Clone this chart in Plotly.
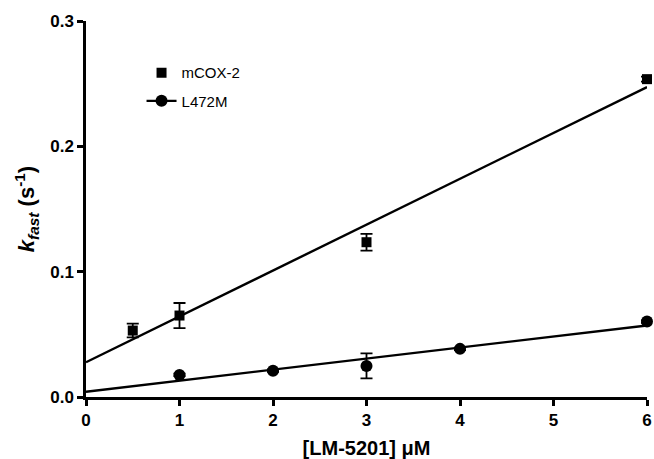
import numpy as np
import plotly.graph_objects as go

# Data
cox_x = [0.5, 1, 3, 6]
cox_y = [0.053, 0.065, 0.1235, 0.2536]
cox_err = [0.0055, 0.010, 0.0067, 0.002]

l472_x = [1, 2, 3, 4, 6]
l472_y = [0.0176, 0.021, 0.0248, 0.0384, 0.0602]
l472_err = [0.001, 0.001, 0.010, 0.001, 0.001]

x_ticks = [0, 1, 2, 3, 4, 5, 6]
y_ticks = [0.0, 0.1, 0.2, 0.3]
y_tick_labels = ["0.0", "0.1", "0.2", "0.3"]

# Linear fits
cox_fit = np.polyfit(cox_x, cox_y, 1)
l472_fit = np.polyfit(l472_x, l472_y, 1)
fit_x = np.array([0, 6])

FONT = "Liberation Sans, Arial, sans-serif"

fig = go.Figure()

fig.add_trace(go.Scatter(
    x=fit_x, y=np.polyval(cox_fit, fit_x), mode="lines",
    line=dict(color="black", width=2.4), showlegend=False, hoverinfo="skip"))
fig.add_trace(go.Scatter(
    x=fit_x, y=np.polyval(l472_fit, fit_x), mode="lines",
    line=dict(color="black", width=2.4), showlegend=False, hoverinfo="skip"))

fig.add_trace(go.Scatter(
    x=cox_x, y=cox_y, mode="markers", name="mCOX-2",
    marker=dict(symbol="square", size=10, color="black"),
    error_y=dict(type="data", array=cox_err, visible=True, color="black",
                 thickness=1.8, width=6),
    cliponaxis=False, legend="legend"))
fig.add_trace(go.Scatter(
    x=l472_x, y=l472_y, mode="markers", name="L472M",
    marker=dict(symbol="circle", size=12, color="black"),
    error_y=dict(type="data", array=l472_err, visible=True, color="black",
                 thickness=1.8, width=6),
    cliponaxis=False, showlegend=False))
# legend entry for L472M with line + circle
fig.add_trace(go.Scatter(
    x=[None], y=[None], mode="lines+markers", name="L472M",
    marker=dict(symbol="circle", size=12, color="black"),
    line=dict(color="black", width=2.4), legend="legend2"))

legend_common = dict(xanchor="left", yanchor="middle",
                     font=dict(size=15, family=FONT), bgcolor="rgba(0,0,0,0)",
                     itemwidth=30)

fig.update_layout(
    width=654, height=459,
    margin=dict(l=86, r=7, t=21, b=62, autoexpand=False),
    paper_bgcolor="white", plot_bgcolor="white",
    font=dict(family=FONT, color="black"),
    legend=dict(x=0.099, y=0.862, **legend_common),
    legend2=dict(x=0.099, y=0.787, **legend_common),
    xaxis=dict(
        range=[0, 6], tickvals=x_ticks, showgrid=False, zeroline=False,
        showline=True, linecolor="black", linewidth=2.5,
        ticks="outside", ticklen=6, tickwidth=2.5, tickcolor="black",
        tickfont=dict(size=17, family=FONT, weight="bold"),
        automargin=False,
        title=dict(text="<b>[LM-5201] μM</b>", font=dict(size=20, family=FONT),
                   standoff=14)),
    yaxis=dict(
        range=[0, 0.3], tickvals=y_ticks, ticktext=y_tick_labels,
        showgrid=False, zeroline=False,
        showline=True, linecolor="black", linewidth=2.5,
        ticks="outside", ticklen=6, tickwidth=2.5, tickcolor="black",
        tickfont=dict(size=17, family=FONT, weight="bold"),
        automargin=False,
        title=dict(text="<b><i>k</i><sub><i>fast</i></sub> (s<sup>-1</sup>)</b>",
                   font=dict(size=22, family=FONT), standoff=10)),
)

fig.write_html("out.html", config={"displayModeBar": False},
               post_script="document.body.style.margin='0';document.body.style.overflow='hidden';")
